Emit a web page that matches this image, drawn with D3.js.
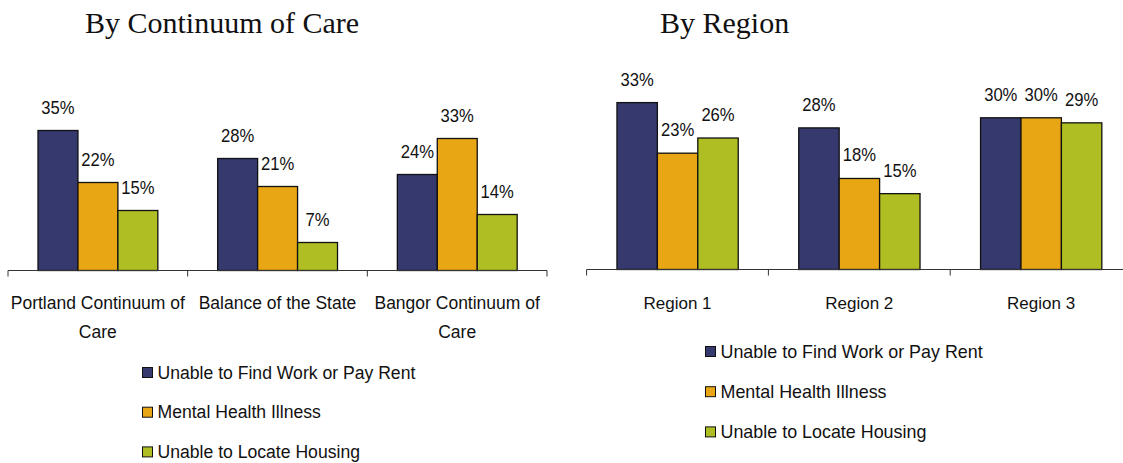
<!DOCTYPE html>
<html>
<head>
<meta charset="utf-8">
<script src="https://cdn.jsdelivr.net/npm/d3@7"></script>
<style>
  html, body { margin: 0; padding: 0; background: #fff; }
  svg { display: block; }
  .title { font-family: "Liberation Serif", "Times New Roman", serif; font-size: 30px; fill: #111; }
  .lbl { font-family: "Liberation Sans", Arial, sans-serif; fill: #111; }
  .axis path, .axis line { stroke: #333; stroke-width: 1; }
</style>
</head>
<body>
<svg id="chart" width="1123" height="463"></svg>
<script>
// Series shared by both panels
const seriesNames = ["Unable to Find Work or Pay Rent", "Mental Health Illness", "Unable to Locate Housing"];
const seriesColors = ["#35396e", "#e8a514", "#afbe22"];

// Panel 1: by Continuum of Care
const careCategories = ["Portland Continuum of Care", "Balance of the State", "Bangor Continuum of Care"];
const careLabelLines = [["Portland Continuum of", "Care"], ["Balance of the State"], ["Bangor Continuum of", "Care"]];
const careWork = [35, 28, 24];
const careMental = [22, 21, 33];
const careHousing = [15, 7, 14];

// Panel 2: by Region
const regionCategories = ["Region 1", "Region 2", "Region 3"];
const regionLabelLines = [["Region 1"], ["Region 2"], ["Region 3"]];
const regionWork = [33, 28, 30];
const regionMental = [23, 18, 30];
const regionHousing = [26, 15, 29];

const svg = d3.select("#chart");

function drawPanel(cfg) {
  const g = svg.append("g");
  const x0 = d3.scaleBand().domain(cfg.categories).range([cfg.x0, cfg.x1]).padding(0);
  const bw = x0.bandwidth();
  const x1 = d3.scaleBand().domain(d3.range(seriesNames.length)).range([bw * 0.167, bw * 0.834]).padding(0);
  const y = d3.scaleLinear().domain([0, cfg.yMax]).range([cfg.base, cfg.top]);

  // title
  g.append("text").attr("class", "title").attr("x", cfg.titleX).attr("y", 33).text(cfg.title);

  // bars with value labels
  const groups = g.selectAll("g.grp").data(cfg.categories).join("g")
    .attr("class", "grp")
    .attr("transform", d => `translate(${x0(d)},0)`);

  groups.each(function(cat, ci) {
    const gg = d3.select(this);
    const vals = cfg.series.map(s => s[ci]);
    gg.selectAll("rect").data(vals).join("rect")
      .attr("x", (d, i) => x1(i))
      .attr("y", d => y(d))
      .attr("width", x1.bandwidth())
      .attr("height", d => y(0) - y(d))
      .attr("fill", (d, i) => seriesColors[i])
      .attr("stroke", "#111")
      .attr("stroke-width", 1.3);
    gg.selectAll("text.val").data(vals).join("text")
      .attr("class", "lbl val")
      .attr("font-size", 17.5)
      .attr("text-anchor", "middle")
      .attr("transform", (d, i) => `translate(${x1(i) + x1.bandwidth() / 2},${y(d) - 17}) scale(0.95,1.04)`)
      .text(d => d + "%");
  });

  // category axis: baseline plus boundary ticks between categories
  const ax = g.append("g").attr("class", "axis")
    .attr("transform", `translate(0,${cfg.base})`);
  ax.append("line").attr("x1", cfg.x0).attr("x2", cfg.x1).attr("y1", 0).attr("y2", 0);
  const bounds = cfg.categories.map(c => x0(c)).concat([cfg.x1]);
  ax.selectAll("line.bound").data(bounds).join("line")
    .attr("class", "bound")
    .attr("x1", d => d).attr("x2", d => d)
    .attr("y1", 0).attr("y2", 6);

  // category labels
  cfg.categories.forEach((c, i) => {
    const t = g.append("text").attr("class", "lbl").attr("font-size", cfg.catFont).attr("text-anchor", "middle");
    cfg.labelLines[i].forEach((line, k) => {
      t.append("tspan").attr("x", x0(c) + bw / 2).attr("y", 309 + k * 29).text(line);
    });
  });

  // legend
  const lg = g.append("g");
  seriesNames.forEach((name, i) => {
    const yy = cfg.legendY + i * cfg.legendStep;
    lg.append("rect")
      .attr("x", cfg.legendX).attr("y", yy - 11)
      .attr("width", 10).attr("height", 10)
      .attr("fill", seriesColors[i]).attr("stroke", "#111").attr("stroke-width", 1);
    lg.append("text").attr("class", "lbl").attr("font-size", cfg.legendFont)
      .attr("x", cfg.legendX + 15).attr("y", yy).text(name);
  });
}

drawPanel({
  title: "By Continuum of Care", titleX: 85,
  categories: careCategories, labelLines: careLabelLines,
  series: [careWork, careMental, careHousing],
  x0: 8, x1: 547, base: 270.5, top: 110.5, yMax: 40,
  catFont: 17.5, legendFont: 17.6,
  legendX: 142.5, legendY: 378.5, legendStep: 39.7
});

drawPanel({
  title: "By Region", titleX: 660,
  categories: regionCategories, labelLines: regionLabelLines,
  series: [regionWork, regionMental, regionHousing],
  x0: 586.6, x1: 1132, base: 269.5, top: 92.5, yMax: 35,
  catFont: 17, legendFont: 17.9,
  legendX: 705.5, legendY: 357.5, legendStep: 40.2
});
</script>
</body>
</html>
